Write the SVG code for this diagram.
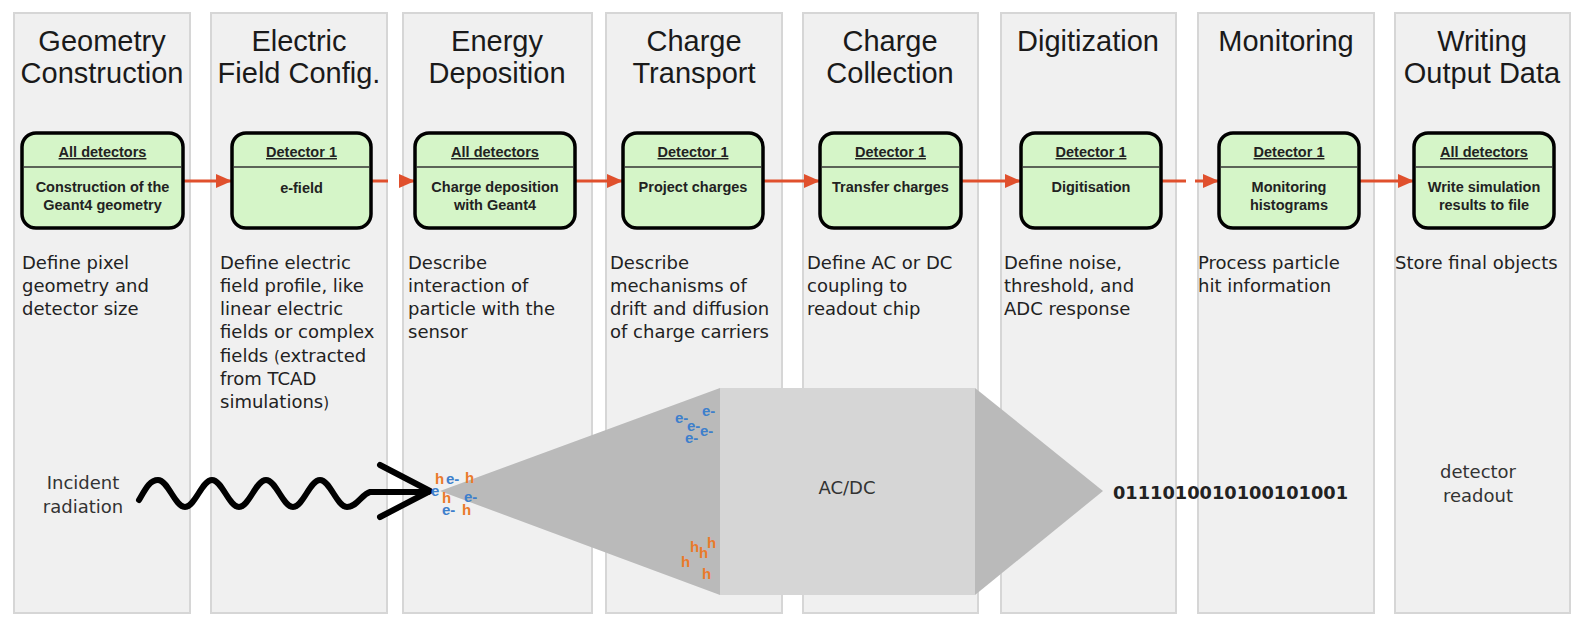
<svg xmlns="http://www.w3.org/2000/svg" width="1577" height="618" viewBox="0 0 1577 618">
  <style>
    .col { fill: #f0f0f0; stroke: #d6d6d6; stroke-width: 2; }
    .title { font-family: "Liberation Sans", Arial, sans-serif; font-size: 29px; fill: #1a1a1a; text-anchor: middle; }
    .desc { font-family: "DejaVu Sans", "Liberation Sans", sans-serif; font-size: 18px; fill: #222; }
    .box { fill: #d5f5c8; stroke: #000; stroke-width: 3.5; }
    .divider { stroke: #333; stroke-width: 1.5; }
    .hdr { font-family: "Liberation Sans", Arial, sans-serif; font-weight: bold; font-size: 14.5px; fill: #222; text-anchor: middle; text-decoration: underline; }
    .body { font-family: "Liberation Sans", Arial, sans-serif; font-weight: bold; font-size: 14.5px; fill: #222; text-anchor: middle; }
    .flow { stroke: #e0502d; stroke-width: 3; fill: none; }
    .lbl { font-family: "DejaVu Sans", sans-serif; font-size: 18px; fill: #333; }
    .eh { font-family: "Liberation Sans", Arial, sans-serif; font-weight: bold; font-size: 15px; }
    .e { fill: #3d7fcc; }
    .h { fill: #ea7a2b; }
    .dark { fill: #bababa; }
    .light { fill: #d6d6d6; }
  </style>
  <defs>
    <marker id="head" markerUnits="userSpaceOnUse" markerWidth="16" markerHeight="14" refX="16" refY="7" orient="auto">
      <path d="M0,0 L16,7 L0,14 Z" fill="#e0502d"/>
    </marker>
  </defs>

  <rect width="1577" height="618" fill="#fff"/>

  <!-- stage columns -->
  <g id="columns">
    <rect class="col" x="14" y="13" width="176" height="600"/>
    <rect class="col" x="211" y="13" width="176" height="600"/>
    <rect class="col" x="403" y="13" width="189" height="600"/>
    <rect class="col" x="606" y="13" width="176" height="600"/>
    <rect class="col" x="803" y="13" width="175" height="600"/>
    <rect class="col" x="1001" y="13" width="175" height="600"/>
    <rect class="col" x="1198" y="13" width="176" height="600"/>
    <rect class="col" x="1395" y="13" width="175" height="600"/>
  </g>

  <!-- stage titles -->
  <g id="titles">
    <text class="title" x="102" y="51">Geometry</text>
    <text class="title" x="102" y="83">Construction</text>
    <text class="title" x="299" y="51">Electric</text>
    <text class="title" x="299" y="83">Field Config.</text>
    <text class="title" x="497" y="51">Energy</text>
    <text class="title" x="497" y="83">Deposition</text>
    <text class="title" x="694" y="51">Charge</text>
    <text class="title" x="694" y="83">Transport</text>
    <text class="title" x="890" y="51">Charge</text>
    <text class="title" x="890" y="83">Collection</text>
    <text class="title" x="1088" y="51">Digitization</text>
    <text class="title" x="1286" y="51">Monitoring</text>
    <text class="title" x="1482" y="51">Writing</text>
    <text class="title" x="1482" y="83">Output Data</text>
  </g>

  <!-- signal chain: particle, charge cloud, coupling, digital output -->
  <g id="signal">
    <polygon class="dark" points="440,491 720,388 720,595"/>
    <rect class="light" x="720" y="388" width="255" height="207"/>
    <polygon class="dark" points="975,388 1103,491 975,595"/>
    <path d="M139,500 C146,488 150,480 158,480 C168,480 175,507 185,507 C195,507 202,480 212,480 C222,480 229,507 239,507 C249,507 256,480 266,480 C276,480 283,507 293,507 C303,507 310,480 320,480 C330,480 337,507 347,507 C357,507 362,494 370,492 L428,492" fill="none" stroke="#000" stroke-width="6" stroke-linecap="round" stroke-linejoin="round"/>
    <path d="M380,465 L430,491 L380,517" fill="none" stroke="#000" stroke-width="6" stroke-linecap="round" stroke-linejoin="round"/>
    <text class="lbl" x="83" y="489" text-anchor="middle">Incident</text>
    <text class="lbl" x="83" y="513" text-anchor="middle">radiation</text>
    <text class="lbl" x="847" y="494" text-anchor="middle">AC/DC</text>
    <text x="1113" y="499" font-family="DejaVu Sans, sans-serif" font-weight="bold" font-size="17.8px" fill="#222">0111010010100101001</text>
    <text class="lbl" x="1478" y="478" text-anchor="middle">detector</text>
    <text class="lbl" x="1478" y="502" text-anchor="middle">readout</text>

    <!-- electron-hole pairs at the interaction point -->
    <text class="eh h" x="435" y="484">h</text>
    <text class="eh e" x="446" y="484">e-</text>
    <text class="eh h" x="465" y="483">h</text>
    <text class="eh e" x="431" y="496">e</text>
    <text class="eh h" x="442" y="503">h</text>
    <text class="eh e" x="464" y="502">e-</text>
    <text class="eh e" x="442" y="515">e-</text>
    <text class="eh h" x="462" y="515">h</text>

    <!-- separated carriers -->
    <text class="eh e" x="702" y="416">e-</text>
    <text class="eh e" x="675" y="423">e-</text>
    <text class="eh e" x="687" y="431">e-</text>
    <text class="eh e" x="700" y="436">e-</text>
    <text class="eh e" x="685" y="443">e-</text>
    <text class="eh h" x="707" y="548">h</text>
    <text class="eh h" x="690" y="552">h</text>
    <text class="eh h" x="699" y="558">h</text>
    <text class="eh h" x="681" y="567">h</text>
    <text class="eh h" x="702" y="579">h</text>
  </g>

  <!-- connectors between modules -->
  <g id="connectors">
    <line class="flow" x1="183" y1="181" x2="232" y2="181" marker-end="url(#head)"/>
    <line class="flow" x1="371" y1="181" x2="388" y2="181"/>
    <line class="flow" x1="399" y1="181" x2="415" y2="181" marker-end="url(#head)"/>
    <line class="flow" x1="575" y1="181" x2="623" y2="181" marker-end="url(#head)"/>
    <line class="flow" x1="763" y1="181" x2="820" y2="181" marker-end="url(#head)"/>
    <line class="flow" x1="961" y1="181" x2="1021" y2="181" marker-end="url(#head)"/>
    <line class="flow" x1="1161" y1="181" x2="1186" y2="181"/>
    <line class="flow" x1="1195" y1="181" x2="1219" y2="181" marker-end="url(#head)"/>
    <line class="flow" x1="1359" y1="181" x2="1414" y2="181" marker-end="url(#head)"/>
  </g>

  <!-- module nodes -->
  <g id="geometry-builder">
    <rect class="box" x="22" y="133" width="161" height="95" rx="14"/>
    <line class="divider" x1="23" y1="167" x2="182" y2="167"/>
    <text class="hdr" x="102.5" y="157">All detectors</text>
    <text class="body" x="102.5" y="192">Construction of the</text>
    <text class="body" x="102.5" y="210">Geant4 geometry</text>
  </g>
  <g id="electric-field">
    <rect class="box" x="232" y="133" width="139" height="95" rx="14"/>
    <line class="divider" x1="233" y1="167" x2="370" y2="167"/>
    <text class="hdr" x="301.5" y="157">Detector 1</text>
    <text class="body" x="301.5" y="193">e-field</text>
  </g>
  <g id="deposition">
    <rect class="box" x="415" y="133" width="160" height="95" rx="14"/>
    <line class="divider" x1="416" y1="167" x2="574" y2="167"/>
    <text class="hdr" x="495" y="157">All detectors</text>
    <text class="body" x="495" y="192">Charge deposition</text>
    <text class="body" x="495" y="210">with Geant4</text>
  </g>
  <g id="propagation">
    <rect class="box" x="623" y="133" width="140" height="95" rx="14"/>
    <line class="divider" x1="624" y1="167" x2="762" y2="167"/>
    <text class="hdr" x="693" y="157">Detector 1</text>
    <text class="body" x="693" y="192">Project charges</text>
  </g>
  <g id="transfer">
    <rect class="box" x="820" y="133" width="141" height="95" rx="14"/>
    <line class="divider" x1="821" y1="167" x2="960" y2="167"/>
    <text class="hdr" x="890.5" y="157">Detector 1</text>
    <text class="body" x="890.5" y="192">Transfer charges</text>
  </g>
  <g id="digitizer">
    <rect class="box" x="1021" y="133" width="140" height="95" rx="14"/>
    <line class="divider" x1="1022" y1="167" x2="1160" y2="167"/>
    <text class="hdr" x="1091" y="157">Detector 1</text>
    <text class="body" x="1091" y="192">Digitisation</text>
  </g>
  <g id="histogrammer">
    <rect class="box" x="1219" y="133" width="140" height="95" rx="14"/>
    <line class="divider" x1="1220" y1="167" x2="1358" y2="167"/>
    <text class="hdr" x="1289" y="157">Detector 1</text>
    <text class="body" x="1289" y="192">Monitoring</text>
    <text class="body" x="1289" y="210">histograms</text>
  </g>
  <g id="output-writer">
    <rect class="box" x="1414" y="133" width="140" height="95" rx="14"/>
    <line class="divider" x1="1415" y1="167" x2="1553" y2="167"/>
    <text class="hdr" x="1484" y="157">All detectors</text>
    <text class="body" x="1484" y="192">Write simulation</text>
    <text class="body" x="1484" y="210">results to file</text>
  </g>

  <!-- stage descriptions -->
  <g id="descriptions">
    <text class="desc" x="22" y="269">Define pixel</text>
    <text class="desc" x="22" y="292">geometry and</text>
    <text class="desc" x="22" y="315">detector size</text>

    <text class="desc" x="220" y="269">Define electric</text>
    <text class="desc" x="220" y="292">field profile, like</text>
    <text class="desc" x="220" y="315">linear electric</text>
    <text class="desc" x="220" y="338">fields or complex</text>
    <text class="desc" x="220" y="362">fields <tspan font-size="15px">(</tspan>extracted</text>
    <text class="desc" x="220" y="385">from TCAD</text>
    <text class="desc" x="220" y="408">simulations<tspan font-size="15px">)</tspan></text>

    <text class="desc" x="408" y="269">Describe</text>
    <text class="desc" x="408" y="292">interaction of</text>
    <text class="desc" x="408" y="315">particle with the</text>
    <text class="desc" x="408" y="338">sensor</text>

    <text class="desc" x="610" y="269">Describe</text>
    <text class="desc" x="610" y="292">mechanisms of</text>
    <text class="desc" x="610" y="315">drift and diffusion</text>
    <text class="desc" x="610" y="338">of charge carriers</text>

    <text class="desc" x="807" y="269">Define AC or DC</text>
    <text class="desc" x="807" y="292">coupling to</text>
    <text class="desc" x="807" y="315">readout chip</text>

    <text class="desc" x="1004" y="269">Define noise,</text>
    <text class="desc" x="1004" y="292">threshold, and</text>
    <text class="desc" x="1004" y="315">ADC response</text>

    <text class="desc" x="1198" y="269">Process particle</text>
    <text class="desc" x="1198" y="292">hit information</text>

    <text class="desc" x="1395" y="269">Store final objects</text>
  </g>
</svg>
